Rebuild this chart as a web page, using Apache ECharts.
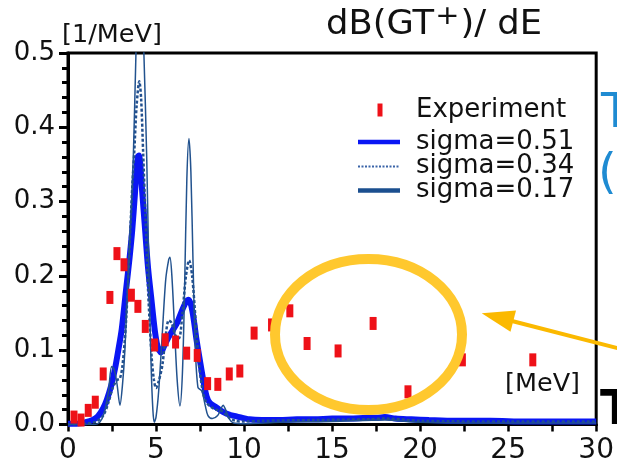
<!DOCTYPE html>
<html>
<head>
<meta charset="utf-8">
<script src="https://cdn.jsdelivr.net/npm/echarts@6/dist/echarts.min.js"></script>
<style>
  html, body { margin: 0; padding: 0; background: #fff; }
  #chart { width: 617px; height: 469px; }
</style>
</head>
<body>
<div id="chart"></div>
<script>
// Gamow-Teller strength distribution dB(GT+)/dE versus excitation energy

// x-axis tick labels (MeV) and y-axis tick labels (1/MeV)
const xTicks = [0, 5, 10, 15, 20, 25, 30];
const yTicks = [0.0, 0.1, 0.2, 0.3, 0.4, 0.5];

// Measured strength: [E (MeV), dB/dE]
const experiment = [
  [0.34, 0.010], [0.74, 0.006], [1.15, 0.019], [1.55, 0.030], [2.0, 0.068],
  [2.38, 0.171], [2.78, 0.230], [3.18, 0.215], [3.6, 0.174], [3.97, 0.159],
  [4.39, 0.132], [4.92, 0.107], [5.52, 0.114], [6.11, 0.111], [6.74, 0.096],
  [7.34, 0.093], [7.93, 0.055], [8.51, 0.054], [9.16, 0.068], [9.76, 0.072],
  [10.57, 0.123], [11.56, 0.134], [12.6, 0.153], [13.58, 0.109], [15.34, 0.099],
  [17.33, 0.136], [19.31, 0.044], [22.4, 0.087], [26.4, 0.087]
];

// Calculated strength folded with a Gaussian of width sigma = 0.51 MeV
const sigma051 = [
  [0, 0.001], [0.5, 0.001], [1.0, 0.003], [1.4, 0.006], [1.7, 0.011], [2.0, 0.022],
  [2.2, 0.033], [2.45, 0.052], [2.67, 0.075], [2.85, 0.099], [3.05, 0.128], [3.3, 0.182],
  [3.5, 0.225], [3.65, 0.262], [3.8, 0.31], [3.9, 0.345], [3.97, 0.361], [4.03, 0.362],
  [4.1, 0.352], [4.2, 0.318], [4.36, 0.268], [4.55, 0.21], [4.73, 0.17], [4.94, 0.125],
  [5.1, 0.104], [5.28, 0.097], [5.45, 0.105], [5.7, 0.117], [5.98, 0.128], [6.2, 0.137],
  [6.45, 0.152], [6.7, 0.165], [6.85, 0.168], [7.0, 0.16], [7.15, 0.14], [7.3, 0.114],
  [7.5, 0.085], [7.68, 0.06], [7.87, 0.038], [8.06, 0.029], [8.43, 0.023], [8.8, 0.017],
  [9.2, 0.013], [9.57, 0.011], [10.3, 0.007], [11, 0.006], [12, 0.006], [13, 0.007],
  [14, 0.007], [15, 0.008], [16, 0.008], [17, 0.009], [17.5, 0.009], [18, 0.01],
  [18.6, 0.008], [19.5, 0.007], [20.5, 0.006], [22, 0.005], [24, 0.005], [26, 0.004],
  [28, 0.004], [30, 0.004]
];

// Same strength folded with sigma = 0.34 MeV
const sigma034 = [
  [0, 0], [1.0, 0.001], [1.6, 0.004], [2.0, 0.012], [2.3, 0.03], [2.55, 0.05],
  [2.8, 0.06], [2.95, 0.062], [3.1, 0.08], [3.3, 0.14], [3.5, 0.24], [3.65, 0.32],
  [3.76, 0.365], [3.9, 0.43], [4.05, 0.462], [4.15, 0.44], [4.27, 0.365], [4.4, 0.28],
  [4.55, 0.18], [4.75, 0.091], [4.88, 0.06], [5.0, 0.049], [5.15, 0.058], [5.36, 0.08],
  [5.55, 0.12], [5.72, 0.14], [5.88, 0.137], [6.1, 0.12], [6.3, 0.116], [6.5, 0.15],
  [6.7, 0.2], [6.88, 0.221], [7.05, 0.2], [7.25, 0.14], [7.45, 0.08], [7.65, 0.045],
  [7.85, 0.03], [8.1, 0.024], [8.4, 0.02], [8.75, 0.018], [9.1, 0.01], [9.5, 0.005],
  [10, 0.004], [11, 0.005], [14, 0.006], [17, 0.007], [18, 0.008], [20, 0.005],
  [25, 0.004], [30, 0.004]
];

// Same strength folded with sigma = 0.17 MeV
const sigma017 = [
  [0, 0], [1.5, 0], [1.8, 0.003], [2.05, 0.015], [2.3, 0.045], [2.48, 0.078],
  [2.62, 0.074], [2.78, 0.055], [2.95, 0.026], [3.1, 0.055], [3.23, 0.1], [3.5, 0.245],
  [3.71, 0.36], [3.86, 0.5], [3.98, 0.58], [4.08, 0.6], [4.2, 0.57], [4.31, 0.5],
  [4.47, 0.36], [4.6, 0.2], [4.72, 0.08], [4.82, 0.02], [4.9, 0.003], [5.0, 0.01],
  [5.15, 0.045], [5.35, 0.12], [5.55, 0.195], [5.72, 0.222], [5.79, 0.225], [5.9, 0.2],
  [6.05, 0.13], [6.2, 0.06], [6.36, 0.025], [6.5, 0.07], [6.62, 0.18], [6.75, 0.33],
  [6.87, 0.385], [6.98, 0.34], [7.1, 0.22], [7.22, 0.11], [7.38, 0.05], [7.6, 0.045],
  [7.8, 0.025], [7.95, 0.012], [8.2, 0.008], [8.5, 0.012], [8.7, 0.022], [8.81, 0.026],
  [8.95, 0.02], [9.15, 0.008], [9.4, 0.002], [10, 0.001], [12, 0.003], [15, 0.004],
  [18, 0.006], [20, 0.003], [25, 0.002], [30, 0.002]
];

const legendNames = ['Experiment', 'sigma=0.51', 'sigma=0.34', 'sigma=0.17'];

const FONT = '"DejaVu Sans", "Liberation Sans", sans-serif';
const BLUE_THICK = '#0a16f4';
const BLUE_DOT = '#22508f';
const BLUE_THIN = '#22528e';
const RED = '#ee1118';

const chart = echarts.init(document.getElementById('chart'), null, { renderer: 'canvas' });

const axisLineStyle = { color: '#000', width: 3 };

const legendRows = [
  { y: 110, kind: 'rect' },
  { y: 142, kind: 'thick' },
  { y: 166.5, kind: 'dot' },
  { y: 190.5, kind: 'thin' }
];

const legendGraphics = [];
legendRows.forEach((row, i) => {
  if (row.kind === 'rect') {
    legendGraphics.push({ type: 'rect', shape: { x: 377.5, y: row.y - 6.5, width: 5, height: 13 }, style: { fill: RED } });
  } else if (row.kind === 'thick') {
    legendGraphics.push({ type: 'line', shape: { x1: 358, y1: row.y, x2: 400, y2: row.y }, style: { stroke: BLUE_THICK, lineWidth: 4.5 } });
  } else if (row.kind === 'dot') {
    legendGraphics.push({ type: 'line', shape: { x1: 358, y1: row.y, x2: 400, y2: row.y }, style: { stroke: '#3a64a8', lineWidth: 2, lineDash: [2, 1.5] } });
  } else {
    legendGraphics.push({ type: 'line', shape: { x1: 358, y1: row.y, x2: 400, y2: row.y }, style: { stroke: '#1b4f8f', lineWidth: 4.5 } });
  }
  legendGraphics.push({
    type: 'text',
    style: { text: legendNames[i], x: 416, y: row.y, font: '26px ' + FONT, fill: '#111',
             textAlign: 'left', textVerticalAlign: 'middle', align: 'left', verticalAlign: 'middle' }
  });
});

const option = {
  animation: false,
  backgroundColor: '#fff',
  grid: {
    left: 68, right: 20.5, top: 53, bottom: 44.5,
    show: true, borderColor: '#000', borderWidth: 3, backgroundColor: 'transparent'
  },
  xAxis: {
    type: 'value', min: 0, max: 30, interval: 5,
    axisLine: { show: true, lineStyle: axisLineStyle },
    axisTick: { show: true, length: 7, lineStyle: { color: '#000', width: 2.5 } },
    minorTick: { show: true, splitNumber: 2, length: 7, lineStyle: { color: '#000', width: 2.5 } },
    splitLine: { show: false },
    axisLabel: {
      margin: 12, fontSize: 28, color: '#111', fontFamily: FONT,
      formatter: v => (xTicks.indexOf(v) >= 0 ? String(v) : '')
    }
  },
  yAxis: {
    type: 'value', min: 0, max: 0.5, interval: 0.1,
    axisLine: { show: true, lineStyle: axisLineStyle },
    axisTick: { show: true, length: 9, lineStyle: { color: '#000', width: 3 } },
    minorTick: { show: true, splitNumber: 5, length: 6, lineStyle: { color: '#000', width: 3 } },
    splitLine: { show: false },
    axisLabel: {
      margin: 13, fontSize: 26, color: '#111', fontFamily: FONT,
      formatter: v => {
        const t = yTicks.find(y => Math.abs(y - v) < 1e-9);
        return t === undefined ? '' : t.toFixed(1);
      }
    }
  },
  series: [
    {
      name: 'sigma=0.51', type: 'line', data: sigma051, showSymbol: false, smooth: 0.3,
      lineStyle: { color: BLUE_THICK, width: 6 }, z: 2
    },
    {
      name: 'sigma=0.34', type: 'line', data: sigma034, showSymbol: false, smooth: 0.3,
      lineStyle: { color: BLUE_DOT, width: 2.5, type: [3, 2] }, z: 3
    },
    {
      name: 'sigma=0.17', type: 'line', data: sigma017, showSymbol: false, smooth: 0.3,
      lineStyle: { color: BLUE_THIN, width: 1.5 }, z: 4
    },
    {
      name: 'Experiment', type: 'scatter', data: experiment, symbol: 'rect',
      symbolSize: [7, 13], itemStyle: { color: RED, opacity: 1 }, z: 5
    }
  ],
  graphic: [
    // unit labels and heading
    { type: 'text', z: 10, style: { text: '[1/MeV]', x: 62, y: 35, font: '25.5px ' + FONT, fill: '#111',
      textAlign: 'left', textVerticalAlign: 'middle', align: 'left', verticalAlign: 'middle' } },
    { type: 'text', z: 10, style: { text: '[MeV]', x: 505, y: 384, font: '25.5px ' + FONT, fill: '#111',
      textAlign: 'left', textVerticalAlign: 'middle', align: 'left', verticalAlign: 'middle' } },
    { type: 'text', z: 10, x: 326, y: 25, scaleX: 1.07,
      style: {
        text: '{a|dB(GT}{s|+}{a|)/ dE}', x: 0, y: 0, fill: '#111',
        textAlign: 'left', textVerticalAlign: 'middle', align: 'left', verticalAlign: 'middle',
        rich: {
          a: { fontSize: 33, fontFamily: FONT, fill: '#111', color: '#111' },
          s: { fontSize: 27, fontFamily: FONT, fill: '#111', color: '#111', padding: [0, 1, 16, 1] }
        }
      } },
    // neighbouring slide text at the right edge
    { type: 'text', z: 10, style: { text: 'T', x: 601, y: 114.5, font: '48px ' + FONT, fill: '#1f8bd2',
      textAlign: 'left', textVerticalAlign: 'middle', align: 'left', verticalAlign: 'middle' } },
    { type: 'text', z: 10, style: { text: '(', x: 598, y: 175.5, font: '48px ' + FONT, fill: '#1f8bd2',
      textAlign: 'left', textVerticalAlign: 'middle', align: 'left', verticalAlign: 'middle' } },
    { type: 'text', z: 10, style: { text: 'T', x: 600, y: 412, font: 'bold 48px ' + FONT, fill: '#000',
      textAlign: 'left', textVerticalAlign: 'middle', align: 'left', verticalAlign: 'middle' } },
    // legend
    { type: 'group', z: 10, children: legendGraphics },
    // highlight ring and pointer
    { type: 'ellipse', z: 20, shape: { cx: 368.5, cy: 334.5, rx: 93.5, ry: 75.5 },
      style: { fill: null, stroke: '#ffc82e', lineWidth: 10 } },
    { type: 'line', z: 20, shape: { x1: 619, y1: 348.5, x2: 510, y2: 320.5 },
      style: { stroke: '#fbb900', lineWidth: 4 } },
    { type: 'polygon', z: 20, shape: { points: [[481.7, 313.3], [516, 310.5], [510.5, 331.7]] },
      style: { fill: '#fbb900' } }
  ]
};

chart.setOption(option);
</script>
</body>
</html>
